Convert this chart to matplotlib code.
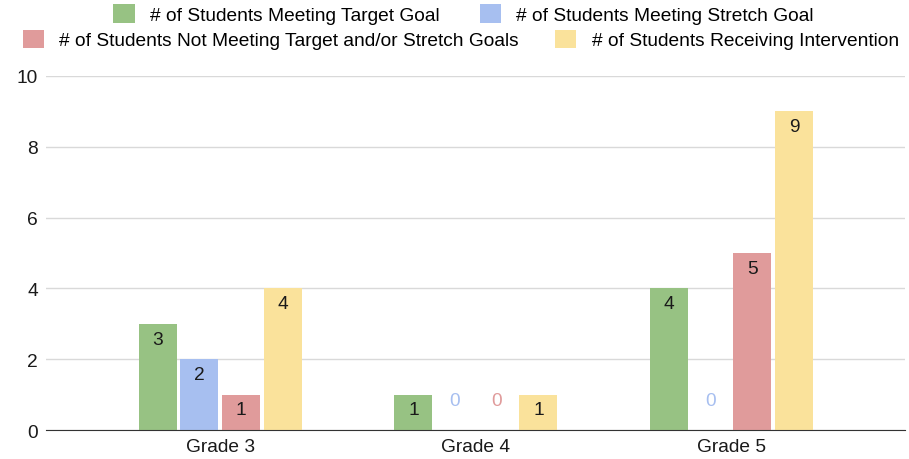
import numpy as np
import matplotlib.pyplot as plt

plt.rcParams['font.family'] = ['Liberation Sans', 'DejaVu Sans']

grades = ['Grade 3', 'Grade 4', 'Grade 5']
series = ['# of Students Meeting Target Goal',
          '# of Students Meeting Stretch Goal',
          '# of Students Not Meeting Target and/or Stretch Goals',
          '# of Students Receiving Intervention']
target = [3, 1, 4]
stretch = [2, 0, 0]
not_meeting = [1, 0, 5]
intervention = [4, 1, 9]
colors = ['#97c283', '#a7bff0', '#e09b9b', '#fae29b']

values = [target, stretch, not_meeting, intervention]

fig = plt.figure(figsize=(9.09, 4.6), dpi=100)
ax = fig.add_axes([0.051, 0.063, 0.945, 0.77])

x = np.arange(len(grades))
w = 0.148
step = 0.163
fs = 13.8
handles = []
for i, (vals, c) in enumerate(zip(values, colors)):
    pos = x + (i - 1.5) * step
    b = ax.bar(pos, vals, width=w, color=c, zorder=3)
    handles.append(b)
    for p, v in zip(pos, vals):
        if v > 0:
            ax.annotate(str(v), (p, v), xytext=(0, -11), textcoords='offset points',
                        ha='center', va='center', fontsize=fs, color='#1a1a1a', zorder=4)
        else:
            ax.annotate(str(v), (p, v), xytext=(0, 21), textcoords='offset points',
                        ha='center', va='center', fontsize=fs, color=c, zorder=4)

ax.set_xlim(-0.68, 2.68)
ax.set_ylim(0, 10)
ax.set_yticks([0, 2, 4, 6, 8, 10])
ax.set_xticks(x)
ax.set_xticklabels(grades)
ax.tick_params(axis='both', length=0, labelsize=fs, colors='#1a1a1a')
ax.tick_params(axis='y', pad=6)
ax.tick_params(axis='x', pad=6)
ax.grid(axis='y', color='#d9d9d9', linewidth=1, zorder=0)
for s in ['top', 'right', 'left']:
    ax.spines[s].set_visible(False)
ax.spines['bottom'].set_color('#333333')
ax.spines['bottom'].set_zorder(5)

fig.legend([handles[0], handles[1]], series[:2], loc='center', bbox_to_anchor=(0.51, 0.967),
           ncol=2, frameon=False, fontsize=fs, handlelength=1.1, handleheight=1.1,
           columnspacing=2.1, handletextpad=0.8)
fig.legend([handles[2], handles[3]], series[2:], loc='center', bbox_to_anchor=(0.507, 0.912),
           ncol=2, frameon=False, fontsize=fs, handlelength=1.1, handleheight=1.1,
           columnspacing=1.9, handletextpad=0.8)

fig.savefig('out.png', dpi=100)
